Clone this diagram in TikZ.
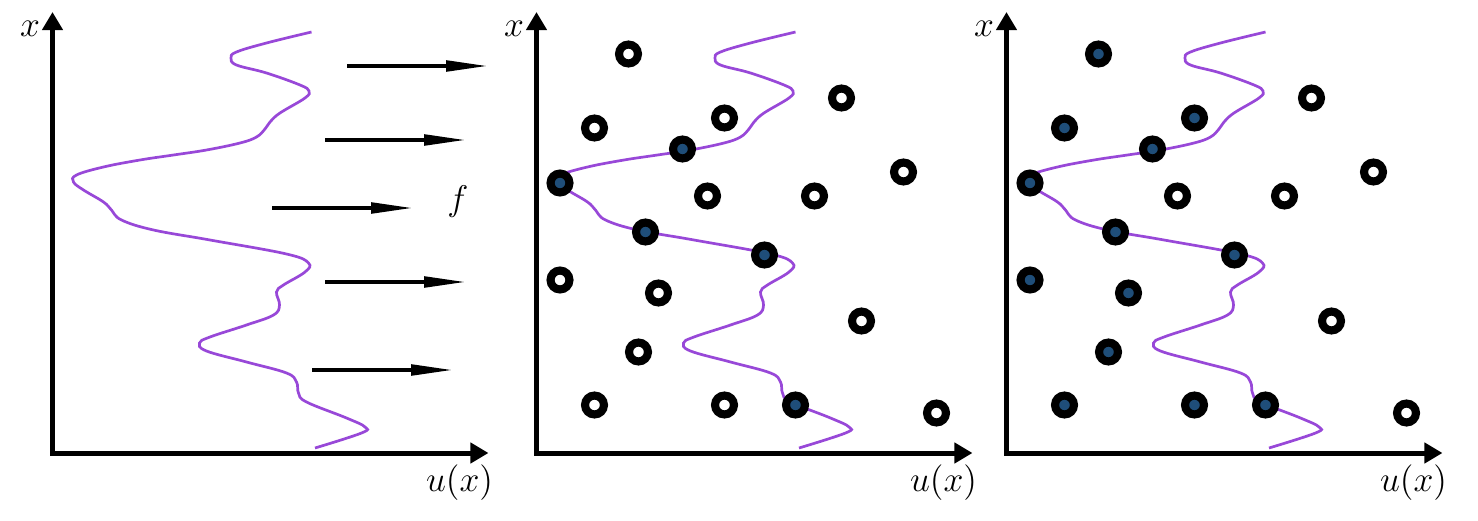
\documentclass[tikz,border=0pt]{standalone}
\usepackage{amsmath}
\usepackage{tikz}
\usetikzlibrary{arrows.meta}

\definecolor{profilepurple}{RGB}{152,72,216}
\definecolor{hitblue}{RGB}{31,78,121}

\tikzset{
	axisline/.style={line width=1.85pt,{Triangle[length=6.7pt,width=7.4pt]}-{Triangle[length=6.7pt,width=7.4pt]}},
	force/.style={line width=1.37pt,-{Triangle[length=15.5pt,width=3.9pt]}},
	profile/.style={profilepurple,line width=1pt},
	lab/.style={font=\large,inner sep=0pt,scale=1.1},
	free/.style={circle,draw=black,line width=3pt,fill=white,minimum size=7pt,inner sep=0pt},
	hit/.style={free,fill=hitblue}
}

% u(x) profile, panel coordinates (origin at the corner of the axes)
\newcommand{\drawprofile}{\draw[profile] plot[smooth,tension=0.65] coordinates {(259,421) (214,410) (184,401) (178.5,395) (184,388) (214,380) (247.5,368) (256.5,362) (252.5,355) (227.5,340) (217.5,331) (212.5,324) (204,316) (187.5,310) (154,303) (121,298) (87.5,293) (51,286) (24,278) (21,271) (31,263) (51,251) (59,243) (69,233) (101,223) (157.5,213) (234,199) (256,190) (252.5,181) (231,168) (224,161) (227,148) (221,138) (194,128) (157.5,116) (147,110) (154,102) (194,91) (234,80) (244,71) (246,60) (254,51) (294,35) (312.5,26) (309,20) (262.5,5)};}
\newcommand{\drawaxes}{\draw[axisline] (0,441) -- (0,0) -- (436,0);}

\begin{document}
\begin{tikzpicture}[x=0.37pt,y=0.37pt]
	\useasboundingbox (0,0) rectangle (1478,520);
	% panel 1: profile and forcing
	\begin{scope}[shift={(52.5,67)}]
		\drawaxes
		\drawprofile
		\node[lab] (xlab1) at (-22.5,424) {$x$};
		\node[lab] (ulab1) at (407,-30) {$u(x)$};
		\foreach \s/\h in {294.5/387, 272.5/313, 219.5/245, 272.5/171, 259.5/83}
			\draw[force] (\s,\h) -- ++(141,0);
		\node[lab] (flab) at (405.5,251) {$f$};
	\end{scope}
	% panel 2: sensors, hits on the profile
	\begin{scope}[shift={(536.5,67)}]
		\drawaxes
		\drawprofile
		\node[lab] (xlab2) at (-22.5,424) {$x$};
		\node[lab] (ulab2) at (407,-30) {$u(x)$};
		\foreach \n/\a/\b in {a/92/399, b/58/325, c/188/335, d/305/355, g/171/257, h/278/257, i/367/281, l/23.5/173, m/122/160, n/325/132, o/102/101, p/58/48, q/188/48, s/400/40}
			\node[free] (\n2) at (\a,\b) {};
		\foreach \n/\a/\b in {e/146/304, f/23.5/270, j/109/221, k/228/198, r/259/48}
			\node[hit] (\n2) at (\a,\b) {};
	\end{scope}
	% panel 3
	\begin{scope}[shift={(1006.5,67)}]
		\drawaxes
		\drawprofile
		\node[lab] (xlab3) at (-22.5,424) {$x$};
		\node[lab] (ulab3) at (407,-30) {$u(x)$};
		\foreach \n/\a/\b in {d/305/355, g/171/257, h/278/257, i/367/281, n/325/132, s/400/40}
			\node[free] (\n3) at (\a,\b) {};
		\foreach \n/\a/\b in {a/92/399, b/58/325, c/188/335, e/146/304, f/23.5/270, j/109/221, k/228/198, l/23.5/173, m/122/160, o/102/101, p/58/48, q/188/48, r/259/48}
			\node[hit] (\n3) at (\a,\b) {};
	\end{scope}
\end{tikzpicture}
\end{document}
